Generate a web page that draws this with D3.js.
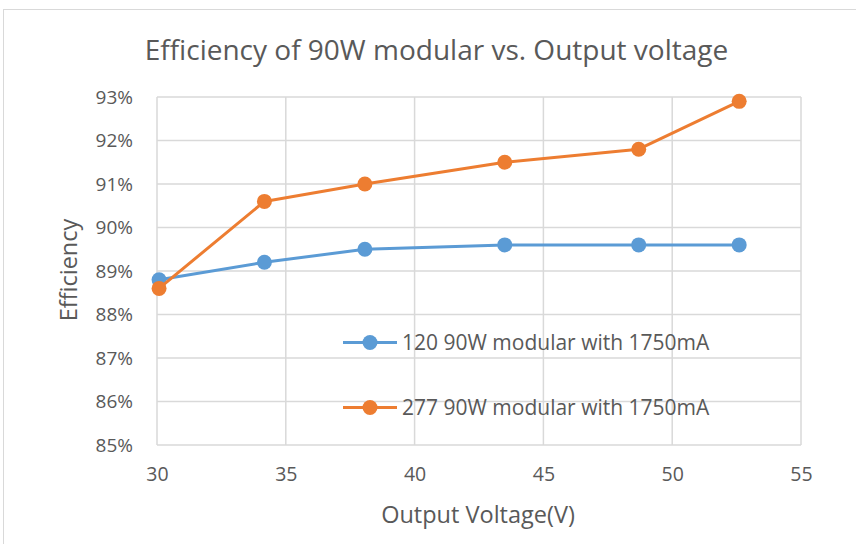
<!DOCTYPE html>
<html><head><meta charset="utf-8">
<script src="https://cdn.jsdelivr.net/npm/d3@7"></script>
<style>body{margin:0;background:#fff}svg{display:block}</style>
</head><body>
<svg id="c" width="856" height="544"></svg>
<script>
const voltage = [30.08, 34.17, 38.07, 43.5, 48.7, 52.6];
const eff120 = [88.8, 89.2, 89.5, 89.6, 89.6, 89.6];
const eff277 = [88.6, 90.6, 91.0, 91.5, 91.8, 92.9];
const seriesNames = ["120 90W modular with 1750mA", "277 90W modular with 1750mA"];
const xTicks = [30, 35, 40, 45, 50, 55];
const yTicks = [85, 86, 87, 88, 89, 90, 91, 92, 93];
const colors = ["#5B9BD5", "#ED7D31"];
const font = "Open Sans, sans-serif";
const txt = "#595959";

const svg = d3.select("#c");
svg.append("rect").attr("x",3.5).attr("y",9.5).attr("width",900).attr("height",600)
  .attr("fill","none").attr("stroke","#d9d9d9").attr("stroke-width",1);

const x = d3.scaleLinear().domain([30,55]).range([157,801]);
const y = d3.scaleLinear().domain([85,93]).range([445,97]);

svg.append("g").selectAll("line").data(yTicks).join("line")
  .attr("x1",x(30)).attr("x2",x(55)).attr("y1",d=>y(d)).attr("y2",d=>y(d))
  .attr("stroke","#d9d9d9").attr("stroke-width",1.5);
svg.append("g").selectAll("line").data(xTicks).join("line")
  .attr("x1",d=>x(d)).attr("x2",d=>x(d)).attr("y1",y(85)).attr("y2",y(93))
  .attr("stroke","#d9d9d9").attr("stroke-width",1.5);

const yAxis = svg.append("g").attr("transform",`translate(${x(30)},0)`)
  .call(d3.axisLeft(y).tickValues(yTicks).tickSize(0).tickPadding(24).tickFormat(d=>d+"%"));
yAxis.select(".domain").remove();
yAxis.selectAll("text").attr("font-family",font).attr("font-size",19).attr("fill",txt);

const xAxis = svg.append("g").attr("transform",`translate(0,${y(85)})`)
  .call(d3.axisBottom(x).tickValues(xTicks).tickSize(0).tickPadding(22));
xAxis.select(".domain").remove();
xAxis.selectAll("text").attr("font-family",font).attr("font-size",19.5).attr("fill",txt);

svg.append("text").attr("x",436.5).attr("y",60).attr("text-anchor","middle")
  .attr("font-family",font).attr("font-size",28).attr("fill",txt)
  .text("Efficiency of 90W modular vs. Output voltage");
svg.append("text").attr("x",478).attr("y",523).attr("text-anchor","middle")
  .attr("font-family",font).attr("font-size",23.5).attr("fill",txt).text("Output Voltage(V)");
svg.append("text").attr("transform","translate(77,270) rotate(-90)").attr("text-anchor","middle")
  .attr("font-family",font).attr("font-size",23.5).attr("fill",txt).text("Efficiency");

const series = [eff120, eff277];
const line = d3.line().x((d,i)=>x(voltage[i])).y(d=>y(d));
series.forEach((s,k)=>{
  svg.append("path").datum(s).attr("d",line).attr("fill","none")
    .attr("stroke",colors[k]).attr("stroke-width",3).attr("stroke-linejoin","round");
  svg.append("g").selectAll("circle").data(s).join("circle")
    .attr("cx",(d,i)=>x(voltage[i])).attr("cy",d=>y(d)).attr("r",7.5).attr("fill",colors[k]);
});

const legY = [342.5, 407.5];
seriesNames.forEach((n,k)=>{
  const g = svg.append("g");
  g.append("line").attr("x1",343).attr("x2",397).attr("y1",legY[k]).attr("y2",legY[k])
    .attr("stroke",colors[k]).attr("stroke-width",3);
  g.append("circle").attr("cx",370).attr("cy",legY[k]).attr("r",7.5).attr("fill",colors[k]);
  g.append("text").attr("x",402).attr("y",legY[k]).attr("dy","0.35em")
    .attr("font-family",font).attr("font-size",21).attr("fill",txt).text(n);
});
</script>
</body></html>
